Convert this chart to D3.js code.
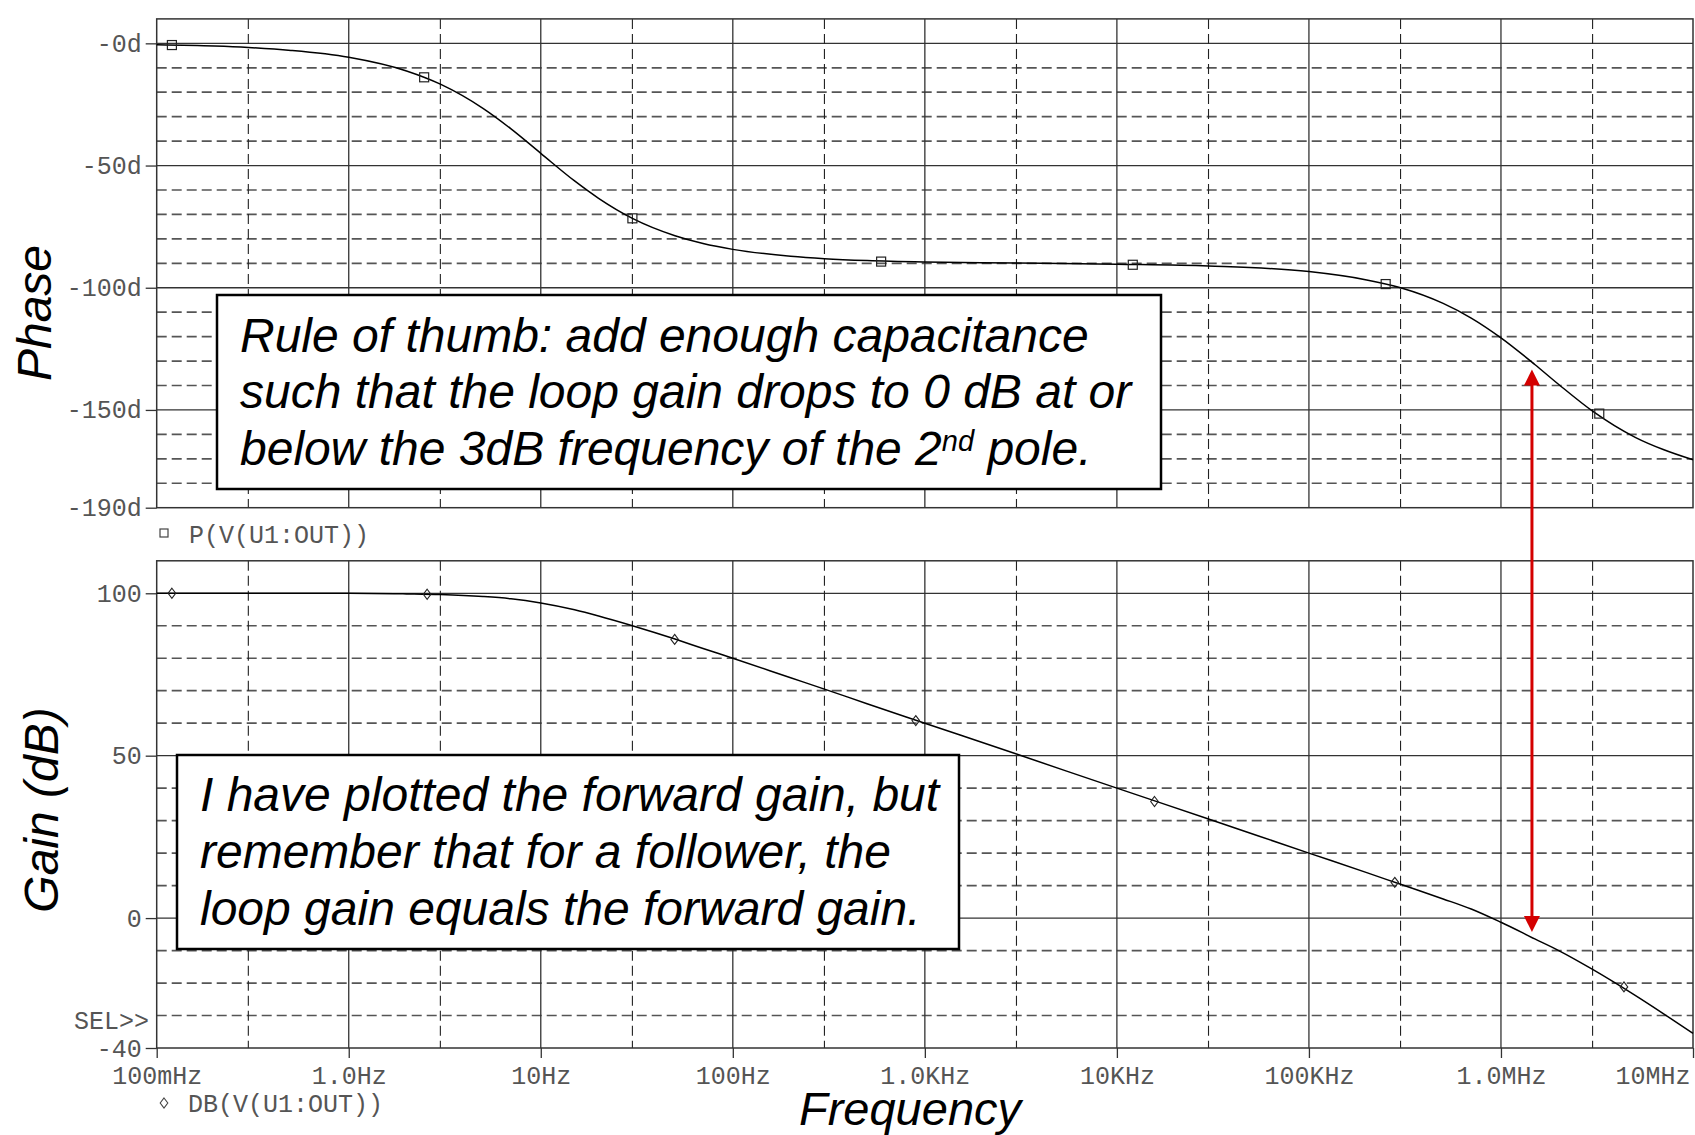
<!DOCTYPE html>
<html>
<head>
<meta charset="utf-8">
<script src="https://cdn.jsdelivr.net/npm/d3@7"></script>
<style>
  body { margin: 0; background: #fff; }
  svg { display: block; }
</style>
</head>
<body>
<svg id="chart"></svg>
<script>
const freqs = [0.1, 0.2, 0.3, 0.5, 1, 2, 3, 5, 7, 10, 15, 20, 30, 50, 70, 100, 200, 300, 500,
  1e3, 3e3, 1e4, 3e4, 1e5, 2e5, 3e5, 5e5, 7e5, 1e6, 1.5e6, 2e6, 3e6, 5e6, 7e6, 1e7];

// P(V(U1:OUT)) in degrees
const phaseVals = [-0.6, -1.1, -1.7, -2.9, -5.7, -11.3, -16.7, -26.6, -35, -45, -56.3, -63.4, -71.6,
  -78.7, -81.9, -84.3, -87.1, -88.1, -88.9, -89.5, -89.9, -90.4, -91.1, -93.4, -96.8, -100,
  -106.4, -112.4, -120.5, -131.4, -139.6, -150.5, -161.2, -166.2, -170.4];

// DB(V(U1:OUT))
const gainVals = [100, 100, 100, 100, 100, 99.8, 99.6, 99, 98.3, 97, 94.9, 93, 90, 85.9, 83,
  80, 74, 70.5, 66, 60, 50.5, 40, 30.5, 20, 14, 10.4, 5.9, 2.8, -1.3, -6.4, -10, -15.8,
  -23.8, -29.4, -35.5];

// trace markers (square on phase, diamond on gain)
const phaseMarkFreq = [0.12, 2.47, 30, 592, 12100, 251000, 3.25e6];
const phaseMarkVal = [-0.7, -13.9, -71.6, -89.3, -90.6, -98.5, -151.5];
const gainMarkFreq = [0.12, 2.56, 49.8, 897, 15700, 280000, 4.37e6];
const gainMarkVal = [100, 99.7, 85.8, 60.8, 35.9, 11, -21.2];

// axis ticks
const freqTicks = [0.1, 1, 10, 100, 1e3, 1e4, 1e5, 1e6, 1e7];
const freqTickLabels = ["100mHz", "1.0Hz", "10Hz", "100Hz", "1.0KHz", "10KHz", "100KHz", "1.0MHz", "10MHz"];
const freqMinor = [0.3, 3, 30, 300, 3e3, 3e4, 3e5, 3e6];
const phaseTicks = [0, -50, -100, -150, -190];
const phaseTickLabels = ["-0d", "-50d", "-100d", "-150d", "-190d"];
const gainTicks = [100, 50, 0, -40];
const gainTickLabels = ["100", "50", "0", "-40"];

const width = 1695, height = 1135;
const svg = d3.select("#chart").attr("width", width).attr("height", height);
svg.append("rect").attr("width", width).attr("height", height).attr("fill", "#fff");

const x = d3.scaleLog().domain([0.1, 1e7]).range([156.7, 1693]);
const yPhase = d3.scaleLinear().domain([10, -190]).range([18.9, 507.7]);
const yGain = d3.scaleLinear().domain([110, -40]).range([560.8, 1048]);

const monoFont = "'Liberation Mono', 'Courier New', monospace";
const sansFont = "'Liberation Sans', Arial, sans-serif";
const labelColor = "#555";

function drawPanel(y, lo, hi) {
  const g = svg.append("g");
  const [x0, x1] = x.range();
  const [yTop, yBot] = y.range();

  // horizontal grid every 10, solid every 50
  const hVals = d3.range(lo + 10, hi, 10);
  g.selectAll("line.h")
    .data(hVals)
    .join("line")
    .attr("x1", x0).attr("x2", x1)
    .attr("y1", d => y(d)).attr("y2", d => y(d))
    .attr("stroke", d => d % 50 === 0 ? "#333" : "#555")
    .attr("stroke-width", d => d % 50 === 0 ? 1.3 : 1.7)
    .attr("stroke-dasharray", d => d % 50 === 0 ? null : "10,5");

  // vertical grid: decades solid, 3x dashed
  g.selectAll("line.vmaj")
    .data(freqTicks.slice(1, -1))
    .join("line")
    .attr("x1", d => x(d)).attr("x2", d => x(d))
    .attr("y1", yTop).attr("y2", yBot)
    .attr("stroke", "#333").attr("stroke-width", 1.3);

  g.selectAll("line.vmin")
    .data(freqMinor)
    .join("line")
    .attr("x1", d => x(d)).attr("x2", d => x(d))
    .attr("y1", yTop).attr("y2", yBot)
    .attr("stroke", "#222").attr("stroke-width", 1.1)
    .attr("stroke-dasharray", "10,5");

  // frame
  g.append("rect")
    .attr("x", x0).attr("y", yTop)
    .attr("width", x1 - x0).attr("height", yBot - yTop)
    .attr("fill", "none").attr("stroke", "#333").attr("stroke-width", 1.5);
  return g;
}

drawPanel(yPhase, -190, 10);
drawPanel(yGain, -40, 110);

// left axes
function leftAxis(y, ticks, labels) {
  const ax = svg.append("g")
    .attr("transform", `translate(${x.range()[0]},0)`)
    .call(d3.axisLeft(y).tickValues(ticks).tickFormat((d, i) => labels[i]).tickSize(11).tickPadding(4));
  ax.select(".domain").remove();
  ax.selectAll("line").attr("stroke", "#333").attr("stroke-width", 1.3);
  ax.selectAll("text")
    .attr("font-family", monoFont).attr("font-size", 25).attr("fill", labelColor);
  return ax;
}
leftAxis(yPhase, phaseTicks, phaseTickLabels);
leftAxis(yGain, gainTicks, gainTickLabels);

// bottom axis
const xAx = svg.append("g")
  .attr("transform", `translate(0,${yGain.range()[1]})`)
  .call(d3.axisBottom(x).tickValues(freqTicks).tickFormat((d, i) => freqTickLabels[i]).tickSize(10));
xAx.select(".domain").remove();
xAx.selectAll("line").attr("stroke", "#333").attr("stroke-width", 1.3);
xAx.selectAll("text")
  .attr("font-family", monoFont).attr("font-size", 25).attr("fill", labelColor)
  .attr("y", 27).attr("dy", "0.35em")
  .attr("text-anchor", (d, i) => i === freqTicks.length - 1 ? "end" : "middle")
  .attr("dx", (d, i) => i === freqTicks.length - 1 ? -3 : 0);

// curves
const phaseData = freqs.map((f, i) => ({ f, v: phaseVals[i] }));
const gainData = freqs.map((f, i) => ({ f, v: gainVals[i] }));

svg.append("path")
  .datum(phaseData)
  .attr("fill", "none").attr("stroke", "#000").attr("stroke-width", 1.5)
  .attr("d", d3.line().x(d => x(d.f)).y(d => yPhase(d.v)).curve(d3.curveMonotoneX));

svg.append("path")
  .datum(gainData)
  .attr("fill", "none").attr("stroke", "#000").attr("stroke-width", 1.5)
  .attr("d", d3.line().x(d => x(d.f)).y(d => yGain(d.v)).curve(d3.curveMonotoneX));

// markers
svg.selectAll("rect.pm")
  .data(phaseMarkFreq)
  .join("rect")
  .attr("x", d => x(d) - 4.5)
  .attr("y", (d, i) => yPhase(phaseMarkVal[i]) - 4.5)
  .attr("width", 9).attr("height", 9)
  .attr("fill", "none").attr("stroke", "#222").attr("stroke-width", 1.2);

const diamond = "M0,-5L3.8,0L0,5L-3.8,0Z";
svg.selectAll("path.gm")
  .data(gainMarkFreq)
  .join("path")
  .attr("d", diamond)
  .attr("transform", (d, i) => `translate(${x(d)},${yGain(gainMarkVal[i])})`)
  .attr("fill", "none").attr("stroke", "#222").attr("stroke-width", 1.1);

// trace legends
svg.append("rect")
  .attr("x", 160).attr("y", 529).attr("width", 8).attr("height", 8)
  .attr("fill", "none").attr("stroke", "#444").attr("stroke-width", 1.2);
svg.append("text")
  .attr("x", 189).attr("y", 534).attr("dy", "0.35em")
  .attr("font-family", monoFont).attr("font-size", 25).attr("fill", labelColor)
  .text("P(V(U1:OUT))");

svg.append("path")
  .attr("d", diamond).attr("transform", "translate(164,1103)")
  .attr("fill", "none").attr("stroke", "#444").attr("stroke-width", 1.1);
svg.append("text")
  .attr("x", 188).attr("y", 1103).attr("dy", "0.35em")
  .attr("font-family", monoFont).attr("font-size", 25).attr("fill", labelColor)
  .text("DB(V(U1:OUT))");

svg.append("text")
  .attr("x", 149).attr("y", 1020).attr("dy", "0.35em").attr("text-anchor", "end")
  .attr("font-family", monoFont).attr("font-size", 25).attr("fill", labelColor)
  .text("SEL>>");

// axis titles
svg.append("text")
  .attr("transform", "translate(51,313) rotate(-90)")
  .attr("text-anchor", "middle")
  .attr("font-family", sansFont).attr("font-style", "italic").attr("font-size", 48)
  .text("Phase");

svg.append("text")
  .attr("transform", "translate(58,810) rotate(-90)")
  .attr("text-anchor", "middle")
  .attr("font-family", sansFont).attr("font-style", "italic").attr("font-size", 48)
  .text("Gain (dB)");

svg.append("text")
  .attr("x", 910).attr("y", 1125)
  .attr("text-anchor", "middle")
  .attr("font-family", sansFont).attr("font-style", "italic").attr("font-size", 47)
  .text("Frequency");

// annotation boxes
function noteBox(bx, by, bw, bh, tx, baselines, lines) {
  const g = svg.append("g");
  g.append("rect")
    .attr("x", bx).attr("y", by).attr("width", bw).attr("height", bh)
    .attr("fill", "#fff").attr("stroke", "#000").attr("stroke-width", 2.5);
  lines.forEach((ln, i) => {
    const t = g.append("text")
      .attr("x", tx).attr("y", baselines[i])
      .attr("font-family", sansFont).attr("font-style", "italic").attr("font-size", 48);
    ln.forEach(part => {
      const s = t.append("tspan").text(part.t);
      if (part.sup) s.attr("font-size", 29).attr("dy", -14);
      if (part.after) s.attr("dy", 14);
    });
  });
}

noteBox(217, 295, 944, 194, 240, [351.7, 408.3, 465], [
  [{ t: "Rule of thumb: add enough capacitance" }],
  [{ t: "such that the loop gain drops to 0 dB at or" }],
  [{ t: "below the 3dB frequency of the 2" }, { t: "nd", sup: true }, { t: " pole.", after: true }]
]);

noteBox(177, 755, 782, 194, 200, [811, 868, 925], [
  [{ t: "I have plotted the forward gain, but" }],
  [{ t: "remember that for a follower, the" }],
  [{ t: "loop gain equals the forward gain." }]
]);

// red double arrow between 0 dB crossing and phase
const arrowX = x(1.45e6);
const arrowTop = yPhase(-133.5), arrowBot = yGain(-4.3);
svg.append("line")
  .attr("x1", arrowX).attr("x2", arrowX)
  .attr("y1", arrowTop + 14).attr("y2", arrowBot - 14)
  .attr("stroke", "#d40000").attr("stroke-width", 3);
svg.append("path")
  .attr("d", `M${arrowX},${arrowTop}L${arrowX - 8},${arrowTop + 16}L${arrowX + 8},${arrowTop + 16}Z`)
  .attr("fill", "#d40000");
svg.append("path")
  .attr("d", `M${arrowX},${arrowBot}L${arrowX - 8},${arrowBot - 16}L${arrowX + 8},${arrowBot - 16}Z`)
  .attr("fill", "#d40000");
</script>
</body>
</html>
